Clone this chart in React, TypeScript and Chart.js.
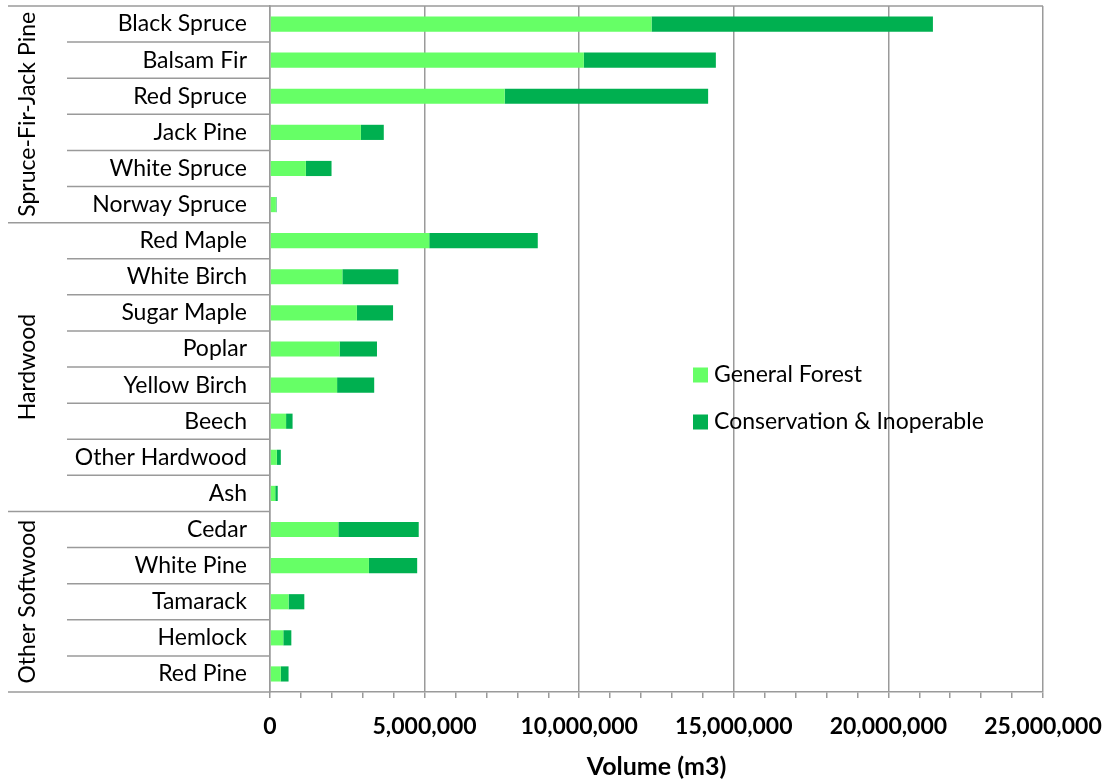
import React, { useEffect, useRef } from 'react';
import { Chart, registerables } from 'chart.js';

Chart.register(...registerables);

const categories = [
  'Black Spruce', 'Balsam Fir', 'Red Spruce', 'Jack Pine', 'White Spruce', 'Norway Spruce',
  'Red Maple', 'White Birch', 'Sugar Maple', 'Poplar', 'Yellow Birch', 'Beech', 'Other Hardwood', 'Ash',
  'Cedar', 'White Pine', 'Tamarack', 'Hemlock', 'Red Pine',
];
const groupNames = ['Spruce-Fir-Jack Pine', 'Hardwood', 'Other Softwood'];
const groupSizes = [6, 8, 5];

const generalForest = [
  12340000, 10150000, 7590000, 2940000, 1160000, 190000,
  5150000, 2340000, 2810000, 2250000, 2170000, 520000, 220000, 170000,
  2210000, 3200000, 600000, 430000, 350000,
];
const conservationInoperable = [
  9100000, 4270000, 6580000, 740000, 830000, 20000,
  3510000, 1810000, 1170000, 1210000, 1200000, 210000, 130000, 80000,
  2600000, 1560000, 510000, 260000, 250000,
];
const seriesLabels = ['General Forest', 'Conservation & Inoperable'];
const seriesColors = ['#66FF66', '#00B050'];

const xMin = 0;
const xMax = 25000000;
const xMajorStep = 5000000;
const xMinorStep = 1000000;
const xTitle = 'Volume (m3)';

const FONT = 'Lato, "DejaVu Sans", sans-serif';
const GRID = '#9a9a9a';
const TEXT = '#000000';

export default function App() {
  const ref = useRef<HTMLCanvasElement>(null);

  useEffect(() => {
    if (!ref.current) return;

    const groupPlugin = {
      id: 'groupAxis',
      afterDraw(chart: any) {
        const { ctx, chartArea } = chart;
        const n = categories.length;
        const rowH = (chartArea.bottom - chartArea.top) / n;
        ctx.save();
        ctx.strokeStyle = GRID;
        ctx.lineWidth = 1.5;
        const groupBounds = new Set<number>([0]);
        let acc = 0;
        groupSizes.forEach((s) => { acc += s; groupBounds.add(acc); });
        for (let i = 0; i <= n; i++) {
          const yy = chartArea.top + i * rowH;
          const x0 = groupBounds.has(i) ? 8 : 67;
          ctx.beginPath();
          ctx.moveTo(x0, yy);
          ctx.lineTo(chartArea.left, yy);
          ctx.stroke();
        }
        // top border of plot
        ctx.beginPath();
        ctx.moveTo(chartArea.left, chartArea.top);
        ctx.lineTo(chartArea.right, chartArea.top);
        ctx.stroke();

        // group labels
        ctx.fillStyle = TEXT;
        ctx.font = `23px ${FONT}`;
        ctx.textAlign = 'center';
        ctx.textBaseline = 'middle';
        let start = 0;
        groupSizes.forEach((s, gi) => {
          const cy = chartArea.top + (start + s / 2) * rowH;
          ctx.save();
          ctx.translate(28, cy);
          ctx.rotate(-Math.PI / 2);
          ctx.fillText(groupNames[gi], 0, 0);
          ctx.restore();
          start += s;
        });

        // legend
        const ds = chart.data.datasets;
        ctx.textAlign = 'left';
        ds.forEach((d: any, i: number) => {
          const cy = 375 + i * 47;
          ctx.fillStyle = d.backgroundColor;
          ctx.fillRect(693, cy - 7.5, 15, 15);
          ctx.fillStyle = TEXT;
          ctx.fillText(d.label, 714, cy);
        });
        ctx.restore();
      },
    };

    const chart = new Chart(ref.current, {
      type: 'bar',
      data: {
        labels: categories,
        datasets: [
          { label: seriesLabels[0], data: generalForest, backgroundColor: seriesColors[0], borderWidth: 0 },
          { label: seriesLabels[1], data: conservationInoperable, backgroundColor: seriesColors[1], borderWidth: 0 },
        ],
      },
      options: {
        indexAxis: 'y',
        animation: false,
        responsive: true,
        maintainAspectRatio: false,
        layout: { padding: { left: 0, top: 6, right: 64, bottom: 0 } },
        datasets: { bar: { categoryPercentage: 1, barPercentage: 0.42 } },
        plugins: { legend: { display: false }, tooltip: { enabled: false } },
        scales: {
          x: {
            stacked: true,
            min: xMin,
            max: xMax,
            afterFit(scale: any) {
              scale.height = 88;
              scale.paddingLeft = 0;
              scale.paddingRight = 0;
            },
            ticks: {
              stepSize: xMinorStep,
              autoSkip: false,
              maxRotation: 0,
              padding: 15,
              color: TEXT,
              font: { family: FONT, size: 23, weight: 'bold' },
              callback: (v: any) => (Number(v) % xMajorStep === 0 ? Number(v).toLocaleString('en-US') : ''),
            },
            grid: {
              color: (c: any) => (c.tick && c.tick.value % xMajorStep === 0 ? GRID : 'rgba(0,0,0,0)'),
              tickColor: GRID,
              tickLength: 6,
              lineWidth: 1.5,
            },
            border: { display: true, color: GRID, width: 1.5 },
            title: {
              display: true,
              text: xTitle,
              color: TEXT,
              font: { family: FONT, size: 25, weight: 'bold', lineHeight: 1 },
              padding: { top: 0, bottom: 1 },
            },
          },
          y: {
            stacked: true,
            afterFit(scale: any) {
              scale.width = 270;
              scale.paddingTop = 0;
              scale.paddingBottom = 0;
            },
            ticks: {
              color: TEXT,
              padding: 15,
              autoSkip: false,
              font: { family: FONT, size: 23 },
            },
            grid: { display: false },
            border: { display: true, color: GRID, width: 1.5 },
          },
        },
      },
      plugins: [groupPlugin],
    } as any);

    return () => chart.destroy();
  }, []);

  return (
    <div style={{ position: 'fixed', left: 0, top: 0, width: 1107, height: 780, background: '#fff' }}>
      <canvas ref={ref} />
    </div>
  );
}
